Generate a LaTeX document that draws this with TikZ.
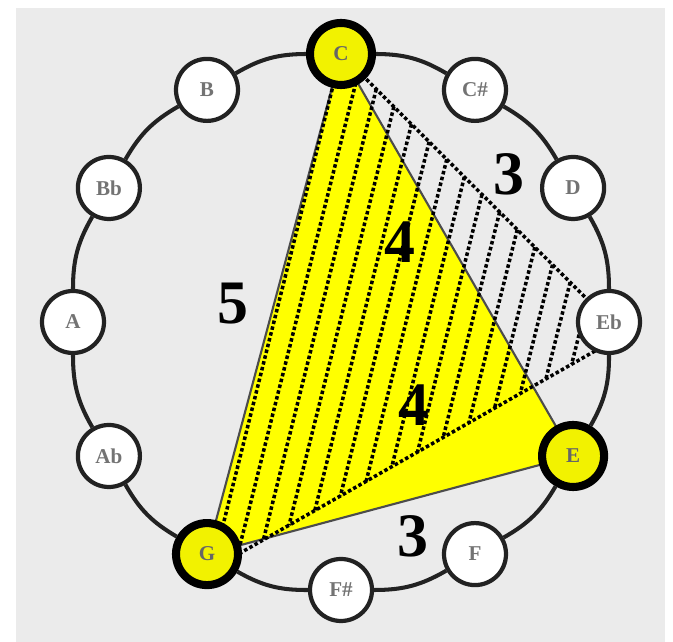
\documentclass[tikz,border=0pt]{standalone}
\usepackage{fontspec}
\setmainfont{Liberation Serif}
\usetikzlibrary{calc}
\definecolor{bgGrey}{HTML}{EBEBEB}
\definecolor{triYellow}{HTML}{FFFF00}
\definecolor{noteYellow}{HTML}{F2F200}
\definecolor{ringDark}{HTML}{222222}
\tikzset{
  ringline/.style   = {ringDark, line width=1.15pt},
  pitch/.style      = {circle, draw=ringDark, line width=1.2pt, fill=white,
                       minimum size=0.62cm, inner sep=0pt,
                       font=\fontsize{6}{7}\selectfont\bfseries, text=black!55},
  triadnote/.style  = {pitch, fill=noteYellow, draw=black, line width=2.3pt,
                       minimum size=0.62cm, text=black!60},
  triedge/.style    = {black!70, line width=0.6pt, line join=round},
  hatch/.style      = {black, line width=1pt, dash pattern=on 1pt off 0.7pt},
  steplbl/.style    = {font=\fontsize{17.6}{20}\selectfont\bfseries},
}

\begin{document}
\begin{tikzpicture}

\useasboundingbox (-3.41,-3.20) rectangle (3.32,3.22);
\fill[bgGrey] (-3.25,-3.20) rectangle (3.24,3.14);

% ---- places of the twelve pitches on the ring -----------------------------
\foreach \nm [count=\i from 0] in {C,Cs,D,Eb,E,F,Fs,G,Ab,A,Bb,B}
  \coordinate (p\nm) at ({90-30*\i}:2.68);

% major triad C-E-G
\fill[triYellow] (pC) -- (pE) -- (pG) -- cycle;
\draw[triedge] (pC) -- (pE) -- (pG) -- cycle;

% minor triad C-Eb-G, hatched with dotted lines
\coordinate (hG)  at ($(pG)+(0.05,-0.15)$);
\coordinate (hEb) at ($(pEb)+(0.14,-0.13)$);
\foreach \k in {0,...,16}
  \draw[hatch] ($(pC)!\k/16!(hEb)$) -- ($(hG)!\k/16!(hEb)$);
\draw[hatch] (pC) -- (hEb) -- (hG);

% ---- pitch nodes -------------------------------------------------------------
\foreach \nm/\lb in {Cs/C\#, D/D, Eb/Eb, F/F, Fs/F\#, Ab/Ab, A/A, Bb/Bb, B/B}
  \node[pitch] (\nm) at (p\nm) {\lb};
\foreach \nm in {C,E,G}
  \node[triadnote] (\nm) at (p\nm) {\nm};

% ring
\foreach \a/\b in {C/Cs, Cs/D, D/Eb, Eb/E, E/F, F/Fs, Fs/G, G/Ab, Ab/A, A/Bb, Bb/B, B/C}
  \draw[ringline] (\a) to[bend left=15] (\b);

% ---- step sizes --------------------------------------------------------------
\node[steplbl] (nCEb) at (1.68,1.48)   {3};
\node[steplbl] (nCE)  at (0.59,0.80)   {4};
\node[steplbl] (nCG)  at (-1.08,0.18)  {5};
\node[steplbl] (nEbG) at (0.73,-0.83)  {4};
\node[steplbl] (nEG)  at (0.72,-2.14)  {3};

\end{tikzpicture}
\end{document}
